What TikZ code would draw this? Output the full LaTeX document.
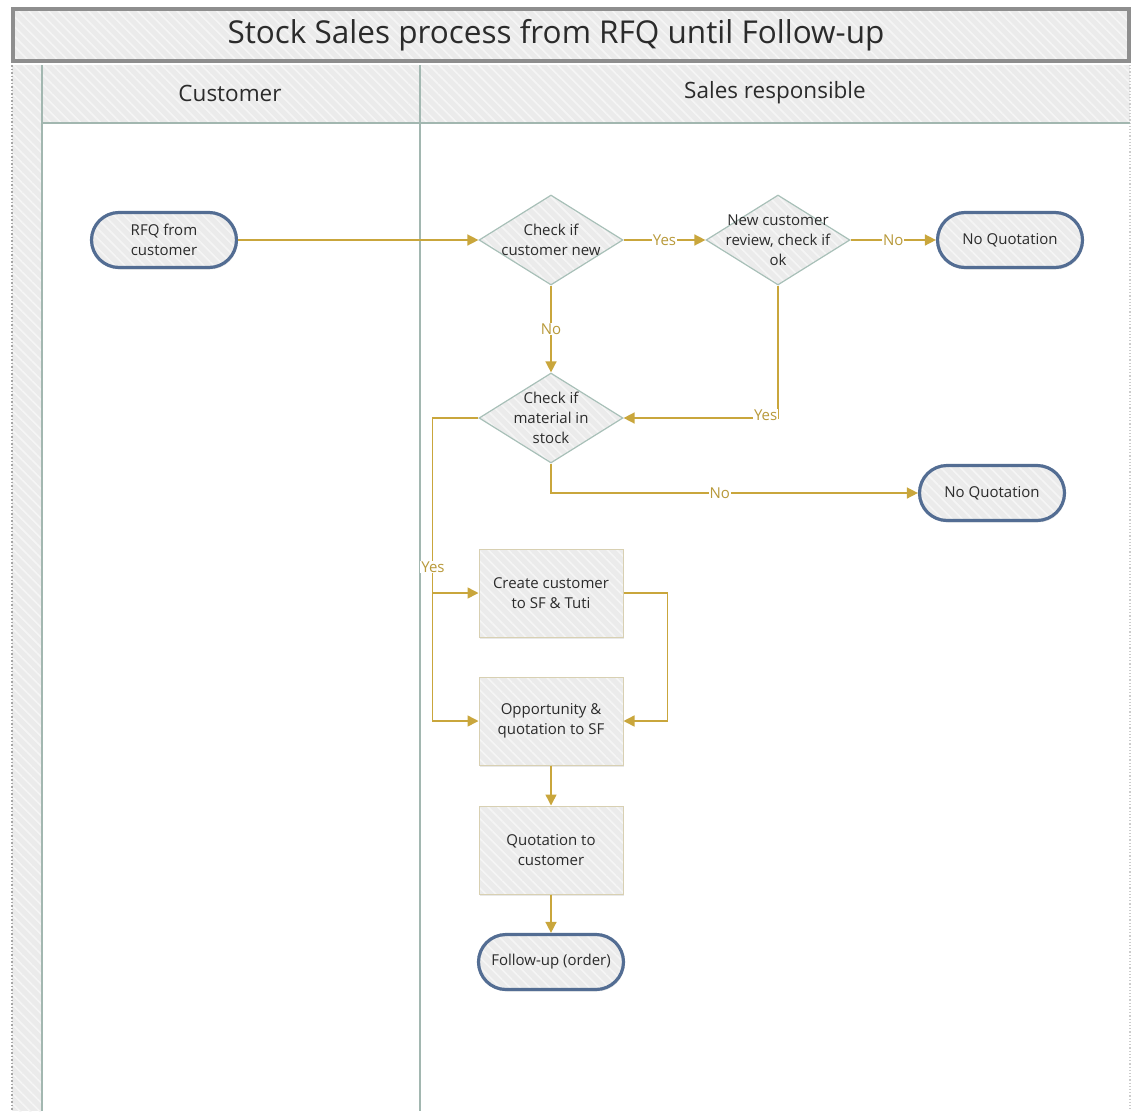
\documentclass[tikz,border=0pt]{standalone}
\usepackage{fontspec}
\setmainfont{Open Sans}
\usetikzlibrary{arrows.meta,shapes.geometric,patterns.meta,shadows}

\definecolor{flowline}{HTML}{C9A63C}
\definecolor{flowtext}{HTML}{B8993A}
\definecolor{termedge}{HTML}{536D93}
\definecolor{diaedge}{HTML}{A8C0B8}
\definecolor{boxedge}{HTML}{D8D0B2}
\definecolor{shadefill}{HTML}{EBEBEB}
\definecolor{hatchline}{HTML}{F5F5F5}
\definecolor{laneline}{HTML}{A2B7B0}
\definecolor{titleedge}{HTML}{8E8E8E}
\definecolor{ink}{HTML}{2B2B2B}

\newcommand\flowfont{\fontsize{15}{20}\selectfont}
\newcommand\lanefont{\fontsize{22.5}{26}\selectfont}
\newcommand\titlefont{\fontsize{31.5}{36}\selectfont}

\tikzset{
  hatched/.style={preaction={fill=shadefill},
    pattern={Lines[angle=-45,distance=7pt,line width=1.6pt]},
    pattern color=hatchline},
  softshadow/.style={drop shadow={shadow xshift=1pt,shadow yshift=-2pt,opacity=0.18}},
  term/.style={softshadow, hatched, draw=termedge, line width=3.2pt,
    rounded corners=27.5pt, minimum width=145pt, minimum height=55pt,
    align=center, font=\flowfont, text=ink, inner sep=0pt},
  dia/.style={diamond, hatched, draw=diaedge, line width=1.2pt,
    minimum width=144pt, minimum height=90pt, inner sep=0pt},
  diatext/.style={align=center, font=\flowfont, text=ink},
  stepbox/.style={rectangle, softshadow, hatched, draw=boxedge, line width=1pt,
    minimum width=144pt, minimum height=88pt, align=center, font=\flowfont, text=ink},
  flow/.style={draw=flowline, line width=1.5pt, -{Triangle[length=11pt,width=11pt]}},
  lab/.style={fill=white, text=flowtext, font=\flowfont, inner sep=1pt},
  lane/.style={draw=laneline, line width=1.5pt},
}

\begin{document}
\begin{tikzpicture}[x=1pt,y=-1pt]
\useasboundingbox (0,0) rectangle (1132,1111);

% pool frame: title bar, lane header row and left strip
\path[hatched] (12,65) rectangle (1130,123);
\path[hatched] (12,65) rectangle (42,1111);
\draw[gray!70, dotted, line width=1.5pt] (12,65) -- (12,1111);
\draw[gray!40, dotted, line width=1.2pt] (1130,65) -- (1130,1111);
\draw[hatched, draw=titleedge, line width=4pt] (13,9) rectangle (1129,61);
\node[font=\titlefont, text=ink] (title) at (556,35) {Stock Sales process from RFQ until Follow-up};

\draw[lane] (42,123) -- (1130,123);
\draw[lane] (42,65) -- (42,1111);
\draw[lane] (420,65) -- (420,1111);
\node[font=\lanefont, text=ink] (lanecust) at (230,93) {Customer};
\node[font=\lanefont, text=ink] (lanesales) at (775,93) {Sales responsible};

% process steps
\node[term] (rfq) at (164,240) {RFQ from\\customer};
\node[dia, label={[diatext]center:Check if\\customer new}] (cn) at (551,240) {};
\node[dia, label={[diatext]center:New customer\\review, check if\\ok}] (nr) at (778,240) {};
\node[term] (nq1) at (1010,240) {No Quotation};
\node[dia, label={[diatext]center:Check if\\material in\\stock}] (cs) at (551,418) {};
\node[term] (nq2) at (992,493) {No Quotation};
\node[stepbox] (cc) at (551,593) {Create customer\\to SF \& Tuti};
\node[stepbox] (op) at (551,721) {Opportunity \&\\quotation to SF};
\node[stepbox] (qc) at (551,850) {Quotation to\\customer};
\node[term] (fu) at (551,962) {Follow-up (order)};

% connectors
\draw[flow] (rfq) -- (cn);
\draw[flow] (cn) -- node[lab] {Yes} (nr);
\draw[flow] (nr) -- node[lab] {No} (nq1);
\draw[flow] (cn) -- node[lab] {No} (cs);
\draw[flow] (nr.south) |- node[lab, pos=0.54, yshift=3pt] {Yes} (cs.east);
\draw[flow] (cs.south) |- node[lab, pos=0.73] {No} (nq2);
\draw[flow] (cs.west) -- ++(-46,0) |- (cc.west);
\draw[flow] (cs.west) -- ++(-46,0) |- (op.west);
\node[lab] (yeslab) at (433,567) {Yes};
\draw[flow] (cc.east) -- ++(44,0) |- (op.east);
\draw[flow] (op) -- (qc);
\draw[flow] (qc) -- (fu);
\end{tikzpicture}
\end{document}
